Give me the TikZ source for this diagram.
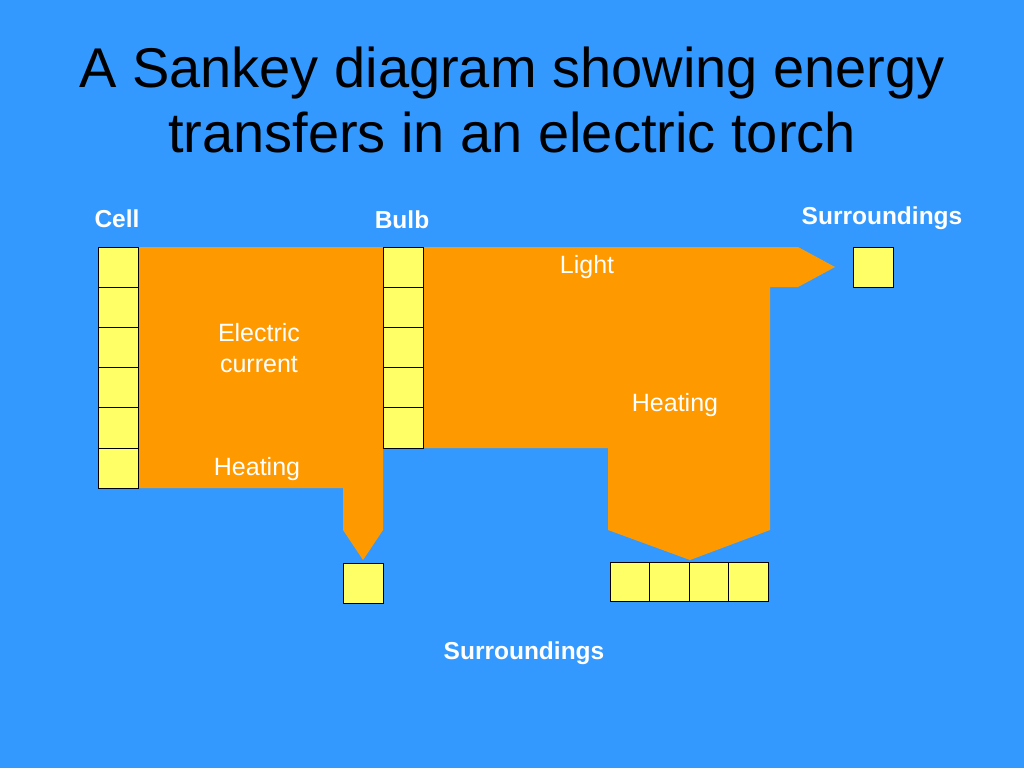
\documentclass[tikz,border=0pt]{standalone}
\usepackage{fontspec}
\setmainfont{Liberation Sans}
\definecolor{bg}{HTML}{3399FF}
\definecolor{flow}{HTML}{FF9900}
\definecolor{cellc}{HTML}{FFFF66}
\begin{document}
\begin{tikzpicture}[x=1pt,y=-1pt,
  box/.style={draw=black,fill=cellc,line width=0.8pt},
  lbl/.style={font=\fontsize{25}{31}\selectfont,white,align=center},
  blbl/.style={font=\fontsize{24.5}{30}\selectfont\bfseries,white}]
\fill[bg] (0,0) rectangle (1024,768);
\useasboundingbox (0,0) rectangle (1024,768);
\node[font=\fontsize{56}{65}\selectfont,align=center] (title) at (512,100) {A Sankey diagram showing energy\\transfers in an electric torch};
% flows
\fill[flow] (138,247) -- (383,247) -- (383,530) -- (363,560) -- (343,530) -- (343,488) -- (138,488) -- cycle;
\fill[flow] (423,247) -- (798,247) -- (835,267) -- (798,287) -- (770,287) -- (770,530) -- (690,560) -- (608,530) -- (608,448) -- (423,448) -- cycle;
\foreach \i in {0,...,5} \draw[box] (98,247+40.2*\i) rectangle (138,287.2+40.2*\i);
\foreach \i in {0,...,4} \draw[box] (383,247+40.2*\i) rectangle (423,287.2+40.2*\i);
\draw[box] (853,247) rectangle (893,287);
\draw[box] (343,563) rectangle (383,603);
\foreach \i in {0,...,3} \draw[box] (610+39.5*\i,562) rectangle (649.5+39.5*\i,601);
\node[blbl] (cell) at (117,219) {Cell};
\node[blbl] (bulb) at (402,220) {Bulb};
\node[blbl] (sr) at (882,218) {Surroundings};
\node[blbl] (sb) at (524,653) {Surroundings};
\node[lbl] (ec) at (259,348) {Electric\\current};
\node[lbl] (h1) at (257,469) {Heating};
\node[lbl] (light) at (587,267) {Light};
\node[lbl] (h2) at (675,405) {Heating};
\end{tikzpicture}
\end{document}
